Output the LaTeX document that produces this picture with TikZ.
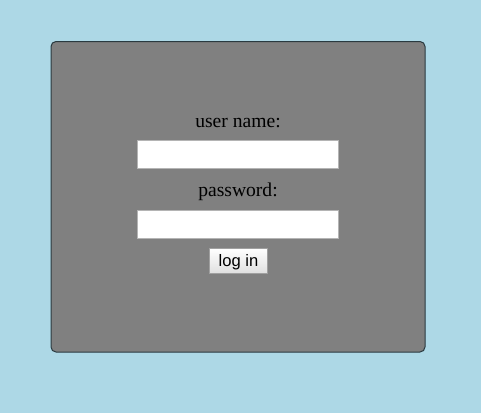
\documentclass[tikz,border=0pt]{standalone}
\usepackage{fontspec}
\setmainfont{Liberation Serif}
\newfontfamily\btnfont{Liberation Sans}
\definecolor{bgblue}{HTML}{ADD8E6}
\definecolor{panelgray}{HTML}{808080}
\definecolor{paneledge}{HTML}{2A3A40}
\definecolor{fieldedge}{HTML}{B4B4B4}
\definecolor{btnedge}{HTML}{A0A0A0}
\begin{document}
\begin{tikzpicture}[x=1pt,y=-1pt,
  label/.style={inner sep=0pt,anchor=base,font=\fontsize{19.6}{22}\selectfont},
  field/.style={draw=fieldedge,line width=1.5pt,fill=white},
  btn/.style={draw=btnedge,line width=1pt,top color=white,bottom color=gray!25}]
\fill[bgblue] (0,0) rectangle (481,413);
\useasboundingbox (0,0) rectangle (481,413);
\draw[paneledge,fill=panelgray,rounded corners=5pt,line width=1pt] (51,41.5) rectangle (425,352);
\node[label] (user) at (238,127) {user name:};
\draw[field] (137.5,140.5) rectangle (338.5,168.5);
\node[label] (pw) at (238,196) {password:};
\draw[field] (137.5,210.5) rectangle (338.5,238.5);
\draw[btn] (209.5,248.5) rectangle (267.5,273.5);
\node[inner sep=0pt,anchor=base,font=\btnfont\fontsize{16.6}{19}\selectfont] (login) at (238.5,266.5) {log in};
\end{tikzpicture}
\end{document}
